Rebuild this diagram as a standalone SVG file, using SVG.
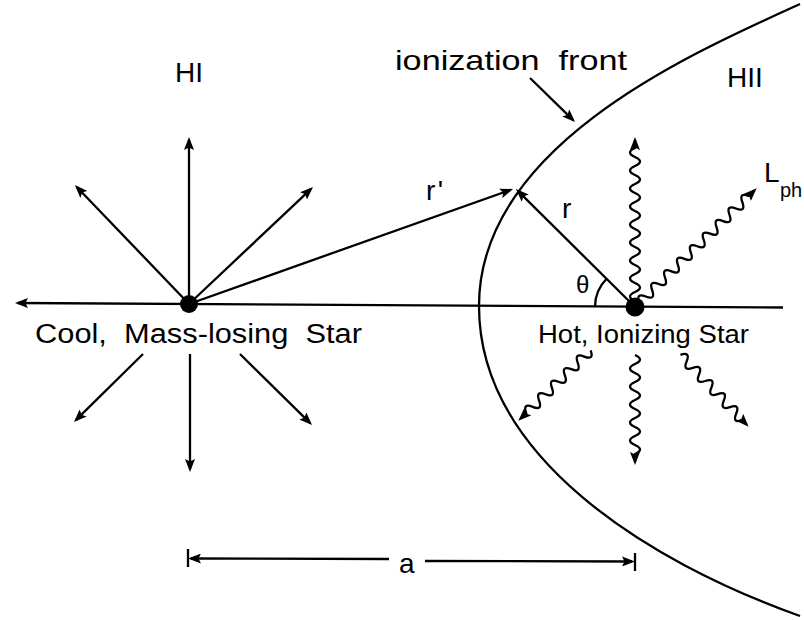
<svg xmlns="http://www.w3.org/2000/svg" width="804" height="620" viewBox="0 0 804 620">
<defs>
<style>
.ln{stroke:#000;stroke-width:2.3;fill:none}
.ar{marker-end:url(#ah)}
.tx{font-family:"Liberation Sans",Arial,Helvetica,sans-serif;fill:#000}
</style>
<marker id="ah" viewBox="0 0 13 10" refX="10" refY="5" markerWidth="13" markerHeight="10" markerUnits="userSpaceOnUse" orient="auto">
<path d="M0,0 L13,5 L0,10 L2.5,5 z" fill="#000"/>
</marker>
</defs>
<rect width="804" height="620" fill="#fff"/>

<g id="ionization-front">
<path class="ln" d="M800 4 C690 54 479 146 479 306 C479 456 646 561 800 616"/>
<text class="tx" x="395" y="70" font-size="28" textLength="232" lengthAdjust="spacingAndGlyphs" xml:space="preserve">ionization  front</text>
</g>

<g id="region-HI"><text class="tx" x="175" y="82" font-size="28">HI</text></g>
<g id="region-HII"><text class="tx" x="727" y="87" font-size="28">HII</text></g>

<g id="connectors">
<!-- axis line through both stars -->
<path class="ln ar" d="M783 307.5 L18 303"/>
<!-- cool star outflow -->
<path class="ln ar" d="M189 304 L189 140"/>
<path class="ln ar" d="M189 304 L77 187.2"/>
<path class="ln ar" d="M189 304 L310.8 189.1"/>
<path class="ln ar" d="M143 354 L76.1 419.9"/>
<path class="ln ar" d="M190 354 L190 469"/>
<path class="ln ar" d="M240 354 L309.9 422.9"/>
<!-- r' and r -->
<path class="ln ar" d="M189 304 L510.2 190"/>
<path class="ln ar" d="M635 307 L518.1 191.1"/>
<!-- front pointer -->
<path class="ln ar" d="M530 78 L572.9 119.9"/>
<!-- theta arc -->
<path class="ln" d="M595 307 A40 40 0 0 1 606.6 278.8"/>
<!-- photon waves from hot star -->
<g transform="translate(635,307) rotate(-90)">
<path class="ln ar" d="M6,0 q4.5,-10 9,0 t9,0 t9,0 t9,0 t9,0 t9,0 t9,0 t9,0 t9,0 t9,0 t9,0 t9,0 t9,0 t9,0 t9,0 t9,0 t9,0 l8,0"/>
</g>
<g transform="translate(635,307) rotate(-44.3)">
<path class="ln ar" d="M6,0 q4.5,-10 9,0 t9,0 t9,0 t9,0 t9,0 t9,0 t9,0 t9,0 t9,0 t9,0 t9,0 t9,0 t9,0 t9,0 t9,0 t9,0 t9,0 l8,0"/>
</g>
<g transform="translate(635,307) rotate(90)">
<path class="ln ar" d="M48,0 q4.5,-10 9,0 t9,0 t9,0 t9,0 t9,0 t9,0 t9,0 t9,0 t9,0 t9,0 t9,0 l8,0"/>
</g>
<g transform="translate(635,307) rotate(46.5)">
<path class="ln ar" d="M66,0 q4.5,-10 9,0 t9,0 t9,0 t9,0 t9,0 t9,0 t9,0 t9,0 t9,0 t9,0 l6,0"/>
</g>
<g transform="translate(635,307) rotate(135.7)">
<path class="ln ar" d="M62,0 q4.5,-10 9,0 t9,0 t9,0 t9,0 t9,0 t9,0 t9,0 t9,0 t9,0 t9,0 l8,0"/>
</g>
<!-- separation a -->
<path class="ln ar" d="M389 559 L191 558.5"/>
<path class="ln ar" d="M425 561 L632 561.5"/>
<path class="ln" d="M188 549 L188 567"/>
<path class="ln" d="M635 553 L635 571"/>
</g>

<g id="cool-star">
<circle cx="189" cy="304" r="9" fill="#000"/>
<text class="tx" x="35" y="343" font-size="27" textLength="327" lengthAdjust="spacingAndGlyphs" xml:space="preserve">Cool,  Mass-losing  Star</text>
</g>

<g id="hot-star">
<circle cx="635" cy="307" r="9.5" fill="#000"/>
<text class="tx" x="538" y="343" font-size="26" textLength="211" lengthAdjust="spacingAndGlyphs">Hot, Ionizing Star</text>
</g>

<g id="labels">
<text class="tx" x="426" y="200" font-size="28" textLength="17" lengthAdjust="spacing">r'</text>
<text class="tx" x="562" y="218" font-size="28">r</text>
<text class="tx" x="576" y="293" font-size="24">θ</text>
<text class="tx" x="764" y="182" font-size="28">L</text>
<text class="tx" x="780" y="197" font-size="20">ph</text>
<text class="tx" x="399" y="573" font-size="28">a</text>
</g>
</svg>
